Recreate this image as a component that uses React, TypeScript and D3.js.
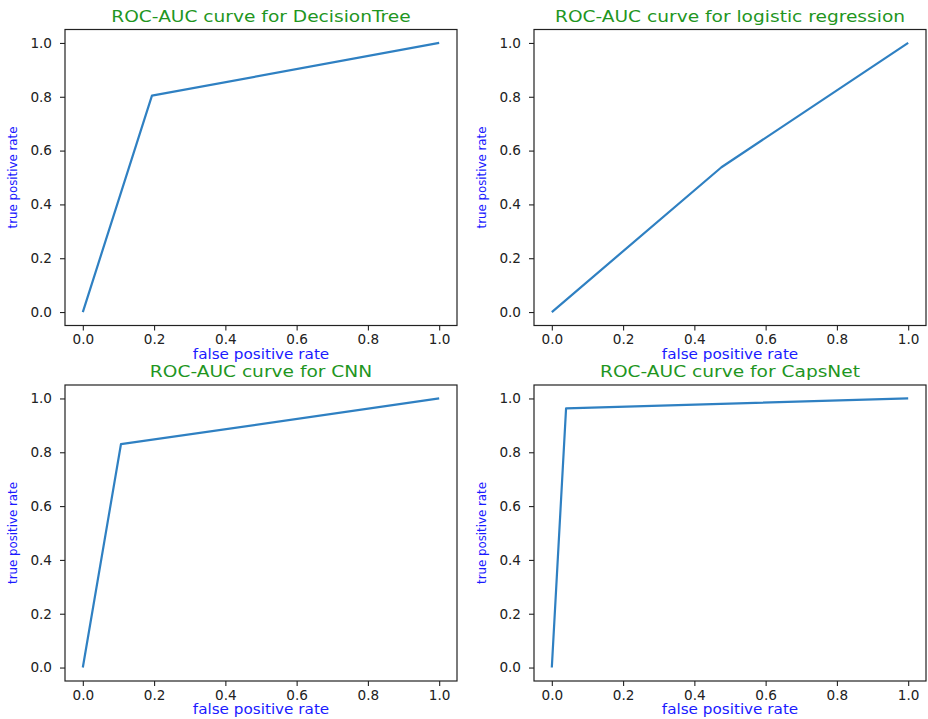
import React, { useEffect, useRef } from "react";
import * as d3 from "d3";

// ROC points
export const modelNames = ["DecisionTree", "logistic regression", "CNN", "CapsNet"];
export const fprValues: number[][] = [
  [0, 0.194, 1],
  [0, 0.476, 1],
  [0, 0.107, 1],
  [0, 0.04, 1],
];
export const tprValues: number[][] = [
  [0, 0.804, 1],
  [0, 0.538, 1],
  [0, 0.83, 1],
  [0, 0.963, 1],
];
export const tickLabels = ["0.0", "0.2", "0.4", "0.6", "0.8", "1.0"];

interface Point {
  fpr: number;
  tpr: number;
}

const width = 928;
const height = 719;
const panelLeft = [65, 534];
const panelTop = [29.5, 385];
const panelWidth = 392;
const panelHeight = 296;
const font = "DejaVu Sans, sans-serif";
const lineColor = "#2f80c2";

const App = () => {
  const ref = useRef<SVGSVGElement>(null);

  useEffect(() => {
    const svg = d3.select(ref.current);
    svg.selectAll("*").remove();
    svg
      .append("rect")
      .attr("width", width)
      .attr("height", height)
      .attr("fill", "#ffffff");

    const ticks = tickLabels.map((t) => +t);

    modelNames.forEach((name, i) => {
      const left = panelLeft[i % 2];
      const top = panelTop[Math.floor(i / 2)];

      const x = d3
        .scaleLinear()
        .domain([-0.05, 1.05])
        .range([left, left + panelWidth]);
      const y = d3
        .scaleLinear()
        .domain([-0.05, 1.05])
        .range([top + panelHeight, top]);

      const g = svg.append("g").attr("class", "panel");

      // x axis
      const xAxis = g
        .append("g")
        .attr("transform", `translate(0, ${top + panelHeight})`)
        .call(
          d3
            .axisBottom(x)
            .tickValues(ticks)
            .tickFormat((_d, k) => tickLabels[k])
            .tickSize(5)
            .tickPadding(4),
        );
      xAxis.select(".domain").remove();
      xAxis
        .selectAll("text")
        .attr("font-family", font)
        .attr("font-size", 13.6)
        .attr("fill", "#222");
      xAxis.selectAll("line").attr("stroke", "#222").attr("stroke-width", 1.1);

      // y axis
      const yAxis = g
        .append("g")
        .attr("transform", `translate(${left}, 0)`)
        .call(
          d3
            .axisLeft(y)
            .tickValues(ticks)
            .tickFormat((_d, k) => tickLabels[k])
            .tickSize(5)
            .tickPadding(8),
        );
      yAxis.select(".domain").remove();
      yAxis
        .selectAll("text")
        .attr("font-family", font)
        .attr("font-size", 13.6)
        .attr("fill", "#222");
      yAxis.selectAll("line").attr("stroke", "#222").attr("stroke-width", 1.1);

      // curve
      const points: Point[] = fprValues[i].map((f, k) => ({
        fpr: f,
        tpr: tprValues[i][k],
      }));
      const line = d3
        .line<Point>()
        .x((d) => x(d.fpr))
        .y((d) => y(d.tpr));
      g.append("path")
        .datum(points)
        .attr("d", line)
        .attr("fill", "none")
        .attr("stroke", lineColor)
        .attr("stroke-width", 2.2)
        .attr("stroke-linejoin", "round");

      // frame
      g.append("rect")
        .attr("x", left)
        .attr("y", top)
        .attr("width", panelWidth)
        .attr("height", panelHeight)
        .attr("fill", "none")
        .attr("stroke", "#222")
        .attr("stroke-width", 1.2);

      // title (text in the picture is a bit wide)
      g.append("text")
        .attr(
          "transform",
          `translate(${left + panelWidth / 2}, ${top - 8}) scale(1.2, 1)`,
        )
        .attr("text-anchor", "middle")
        .attr("font-family", font)
        .attr("font-size", 15.5)
        .attr("fill", "#1f961f")
        .text(`ROC-AUC curve for ${name}`);

      // x label
      g.append("text")
        .attr(
          "transform",
          `translate(${left + panelWidth / 2}, ${top + panelHeight + 33}) scale(1.12, 1)`,
        )
        .attr("text-anchor", "middle")
        .attr("font-family", font)
        .attr("font-size", 13.6)
        .attr("fill", "#1a1aff")
        .text("false positive rate");

      // y label (squeezed in the picture)
      const cy = top + panelHeight / 2;
      g.append("text")
        .attr("transform", `translate(${left - 48}, ${cy}) rotate(-90)`)
        .attr("text-anchor", "middle")
        .attr("font-family", font)
        .attr("font-size", 13)
        .attr("textLength", 102)
        .attr("lengthAdjust", "spacingAndGlyphs")
        .attr("fill", "#1a1aff")
        .text("true positive rate");
    });
  }, []);

  return (
    <svg
      ref={ref}
      width={width}
      height={height}
      style={{ position: "absolute", left: 0, top: 0 }}
    />
  );
};

export default App;
